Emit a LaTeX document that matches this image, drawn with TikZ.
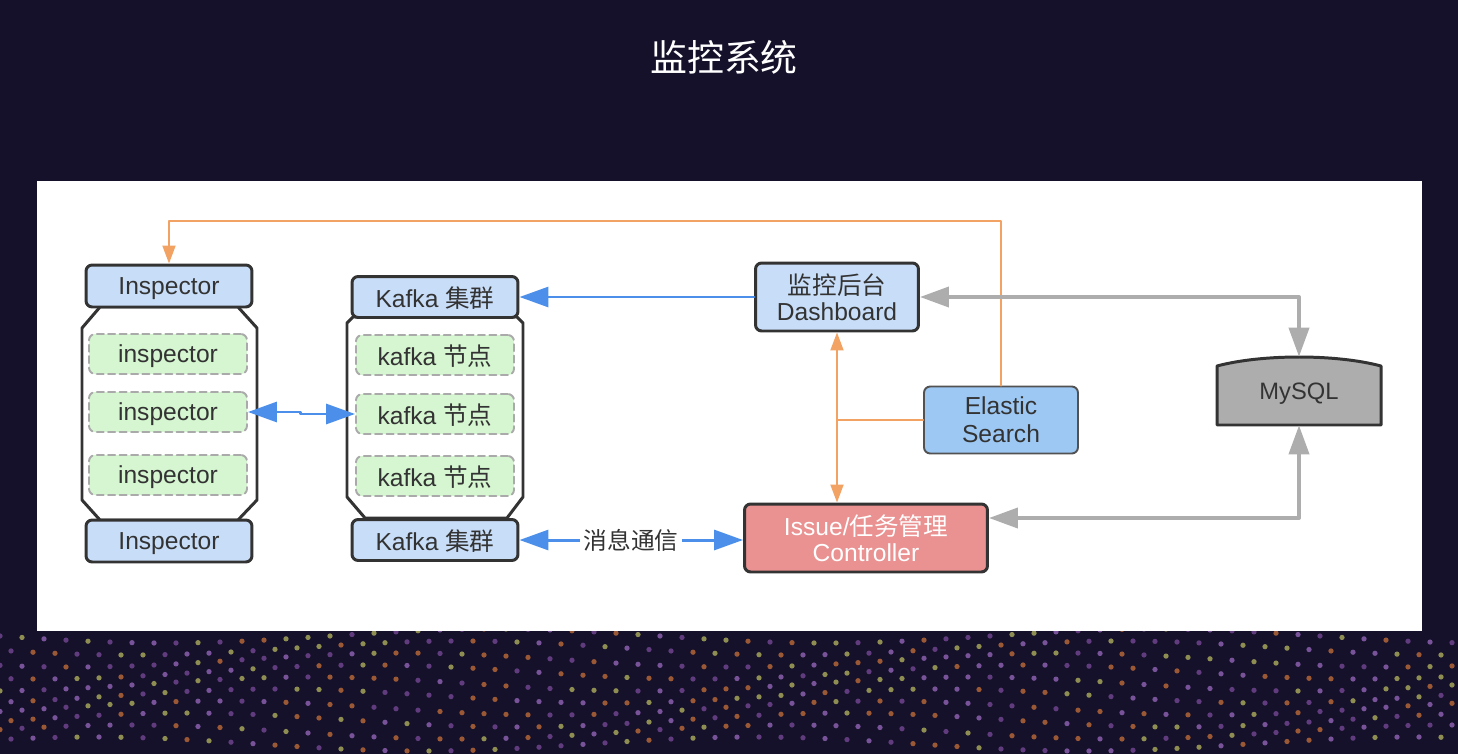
\documentclass[tikz,border=0pt]{standalone}
\usepackage{fontspec}
\setmainfont{Liberation Sans}
\newfontfamily\cjk{Noto Sans CJK SC}
\usetikzlibrary{arrows.meta}
\definecolor{bgnavy}{HTML}{15112A}
\definecolor{boxline}{HTML}{333333}
\definecolor{boxblue}{HTML}{C8DDF8}
\definecolor{esblue}{HTML}{9DC8F3}
\definecolor{nodegreen}{HTML}{D5F6D0}
\definecolor{dashgray}{HTML}{AAAAAA}
\definecolor{ctrlred}{HTML}{EA9191}
\definecolor{arrblue}{HTML}{4B8FEA}
\definecolor{arrorange}{HTML}{F2A263}
\definecolor{arrgray}{HTML}{ADADAD}
\definecolor{txt}{HTML}{333333}
\definecolor{dotA}{HTML}{C8703A}
\definecolor{dotB}{HTML}{9A6AC0}
\definecolor{dotC}{HTML}{B8B860}
\definecolor{dotD}{HTML}{7A4A9A}
\tikzset{bigtip/.tip={Triangle[length=0.58cm,width=0.4cm]},
         smalltip/.tip={Triangle[length=0.36cm,width=0.26cm]}}

\begin{document}
\begin{tikzpicture}[x=0.02cm,y=-0.02cm,line cap=round,line join=round]
    % styles
    \tikzstyle{box}=[draw=boxline,line width=1.7pt,rounded corners=3.5pt,fill=boxblue,text=txt,
                     font=\fontsize{14}{17}\selectfont,inner sep=0pt,align=center]
    \tikzstyle{flat}=[text depth=0pt]
    \tikzstyle{inner}=[draw=dashgray,line width=1.1pt,dash pattern=on 4pt off 2.5pt,rounded corners=3.5pt,
                       fill=nodegreen,text=txt,font=\fontsize{14}{17}\selectfont,inner sep=0pt,flat,
                       minimum width=3.16cm,minimum height=0.8cm]
    \tikzstyle{esbox}=[box,fill=esblue,line width=1.1pt,draw=boxline!85]
    \tikzstyle{ctrlbox}=[box,fill=ctrlred,text=white]
    \tikzstyle{holder}=[draw=boxline,line width=1.7pt,fill=white]
    \tikzstyle{bluearr}=[arrblue,line width=1.7pt]
    \tikzstyle{orangeln}=[arrorange,line width=1.1pt]
    \tikzstyle{grayarr}=[arrgray,line width=2.2pt]

    % ----------------------------------------------------
    % background + white panel
    % ----------------------------------------------------
    \fill[bgnavy] (0,0) rectangle (1458,754);
    \useasboundingbox (0,0) rectangle (1458,754);
    \pgfmathsetseed{7}
    \foreach \r in {0,...,9}{
      \foreach \c in {0,...,66}{
        \pgfmathsetmacro{\dx}{\c*22+11*mod(\r,2)}
        \pgfmathsetmacro{\dy}{636+\r*12+7*sin(\c*12+\r*25)}
        \pgfmathrandominteger{\k}{0}{3}
        \ifcase\k \def\dc{dotA}\or \def\dc{dotB}\or \def\dc{dotC}\or \def\dc{dotD}\fi
        \fill[\dc,opacity=0.75] (\dx,\dy) circle (1.5pt);
      }
    }
    \node[text=white,font=\cjk\fontsize{21}{24}\selectfont] (title) at (724,57) {监控系统};
    \fill[white] (37,181) rectangle (1422,631);

    % ----------------------------------------------------
    % inspector column
    % ----------------------------------------------------
    \draw[holder] (100,307) -- (238,307) -- (257,328) -- (257,500) -- (238,520)
                  -- (100,520) -- (82,500) -- (82,328) -- cycle;
    \node[box,flat,minimum width=3.32cm,minimum height=0.84cm] (insTop) at (169,286) {Inspector};
    \node[box,flat,minimum width=3.32cm,minimum height=0.84cm] (insBot) at (169,541) {Inspector};
    \node[inner] (ins1) at (168,354) {inspector};
    \node[inner] (ins2) at (168,412) {inspector};
    \node[inner] (ins3) at (168,475) {inspector};

    % ----------------------------------------------------
    % kafka column
    % ----------------------------------------------------
    \draw[holder] (353,317) -- (517,317) -- (523,323) -- (523,497) -- (507,518)
                  -- (365,518) -- (347,497) -- (347,323) -- cycle;
    \node[box,flat,minimum width=3.32cm,minimum height=0.82cm] (kfkTop) at (435,297) {Kafka {\cjk 集群}};
    \node[box,flat,minimum width=3.32cm,minimum height=0.82cm] (kfkBot) at (435,540) {Kafka {\cjk 集群}};
    \node[inner] (kfk1) at (435,355) {kafka {\cjk 节点}};
    \node[inner] (kfk2) at (435,414) {kafka {\cjk 节点}};
    \node[inner] (kfk3) at (435,476) {kafka {\cjk 节点}};

    % ----------------------------------------------------
    % dashboard, search, controller, mysql
    % ----------------------------------------------------
    \node[box,minimum width=3.26cm,minimum height=1.36cm] (dash) at (837,297)
         {{\cjk 监控后台}\\[-2pt]Dashboard};
    \node[esbox,minimum width=3.08cm,minimum height=1.34cm] (es) at (1001,420)
         {Elastic\\[-1pt]Search};
    \node[ctrlbox,minimum width=4.86cm,minimum height=1.36cm] (ctrl) at (866,538)
         {Issue/{\cjk 任务管理}\\[-2pt]Controller};
    \node[inner sep=0pt,minimum width=3.28cm,minimum height=1.36cm] (mysql) at (1299,391) {};
    \draw[holder,fill=arrgray] (1217,425) -- (1217,366) .. controls (1262,354) and (1336,354) .. (1381,366)
         -- (1381,425) -- cycle;
    \node[text=txt,font=\fontsize{13.5}{16}\selectfont] at (1299,394) {MySQL};

    % ----------------------------------------------------
    % connectors
    % ----------------------------------------------------
    \draw[bluearr,{bigtip}-{bigtip}] (ins2.east) -- ++(53,0) |- (kfk2.west);
    \draw[bluearr,-{bigtip}] (dash.west) -- (kfkTop.east);
    \draw[bluearr,{bigtip}-{bigtip}] (kfkBot.east) -- (kfkBot.east -| ctrl.west)
         node[midway,fill=white,text=txt,inner sep=2pt,font=\cjk\fontsize{13.5}{16}\selectfont] {消息通信};

    \draw[orangeln,-{smalltip}] (es.north) -- ++(0,-165) -| (insTop.north);
    \draw[orangeln] (es.west) -- (es.west -| dash.south) coordinate (split);
    \draw[orangeln,-{smalltip}] (split) -- (dash.south);
    \draw[orangeln,-{smalltip}] (split) -- (split |- ctrl.north);

    \draw[grayarr,{bigtip}-{bigtip}] (dash.east) -| (mysql.north);
    \draw[grayarr,{bigtip}-{bigtip}] ([yshift=0.4cm]ctrl.east) -| (mysql.south);
\end{tikzpicture}
\end{document}
